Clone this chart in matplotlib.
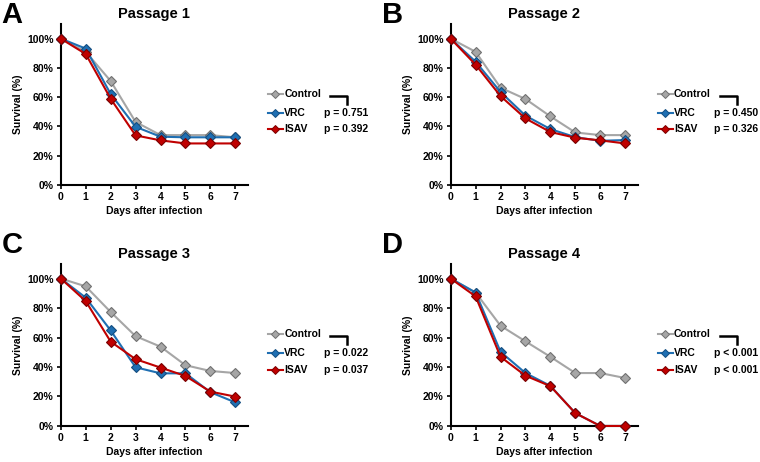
import numpy as np
import matplotlib.pyplot as plt

plt.rcParams['font.family'] = ['Liberation Sans', 'DejaVu Sans']
plt.rcParams['font.weight'] = 'bold'

days = [0, 1, 2, 3, 4, 5, 6, 7]
groups = ['Control', 'VRC', 'ISAV']
panels = ['A', 'B', 'C', 'D']
titles = ['Passage 1', 'Passage 2', 'Passage 3', 'Passage 4']

# survival (%) per passage, per group
control = [
    [100, 91, 71, 43, 34, 34, 34, 32.5],
    [100, 91, 66.4, 58.7, 46.8, 35.8, 34, 34],
    [100, 94.7, 77.3, 60.9, 53.8, 41.2, 37.3, 35.9],
    [100, 90.5, 68, 57.4, 46.9, 35.9, 35.9, 32.5],
]
vrc = [
    [100, 93.2, 62.1, 39.7, 32.9, 32.5, 32.5, 32.5],
    [100, 84.2, 63.5, 47.3, 38.1, 32.6, 30.1, 30.6],
    [100, 87, 64.8, 39.8, 35.7, 35.7, 22.9, 16],
    [100, 90.5, 50.3, 35.9, 27.2, 8.7, 0, 0],
]
isav = [
    [100, 89.5, 58.9, 33.8, 30.4, 28.3, 28.3, 28.3],
    [100, 82.2, 60.7, 45.4, 36.1, 32.2, 30.4, 28.3],
    [100, 84.7, 57.2, 45.3, 39.6, 33.9, 23.3, 19.9],
    [100, 87.9, 46.9, 34.1, 27, 8.7, 0, 0],
]
pvals_vrc = ['p = 0.751', 'p = 0.450', 'p = 0.022', 'p < 0.001']
pvals_isav = ['p = 0.392', 'p = 0.326', 'p = 0.037', 'p < 0.001']

line_colors = ['#a6a6a6', '#1f6fb2', '#c00000']
edge_colors = ['#707070', '#154e80', '#7a0000']

fig = plt.figure(figsize=(7.6, 4.62), dpi=100)
axes_pos = [
    [0.080, 0.600, 0.246, 0.348],
    [0.593, 0.600, 0.246, 0.348],
    [0.080, 0.078, 0.246, 0.351],
    [0.593, 0.078, 0.246, 0.351],
]
letter_pos = [(0.002, 0.998), (0.502, 0.998), (0.002, 0.500), (0.502, 0.500)]

for i in range(4):
    ax = fig.add_axes(axes_pos[i])
    series = [control[i], vrc[i], isav[i]]
    for j in range(3):
        ax.plot(days, series[j], color=line_colors[j], lw=1.5, marker='D',
                ms=5.5, mfc=line_colors[j], mec=edge_colors[j], mew=0.8,
                clip_on=False, zorder=3 + j)
    ax.set_xlim(0, 7.5)
    ax.set_ylim(0, 110)
    ax.set_xticks(days)
    ax.set_yticks(np.arange(0, 101, 20))
    ax.set_yticklabels(['%d%%' % v for v in np.arange(0, 101, 20)])
    for s in ['top', 'right']:
        ax.spines[s].set_visible(False)
    for s in ['left', 'bottom']:
        ax.spines[s].set_linewidth(1.5)
    ax.tick_params(direction='out', length=3, width=1.2, labelsize=7.5, pad=2)
    for lab in ax.get_xticklabels() + ax.get_yticklabels():
        lab.set_fontweight('bold')
    ax.set_xlabel('Days after infection', fontsize=7.5, fontweight='bold', labelpad=3)
    ax.set_ylabel('Survival (%)', fontsize=7.5, fontweight='bold', labelpad=3)
    ax.set_title(titles[i], fontsize=10.5, fontweight='bold', pad=4)
    fig.text(letter_pos[i][0], letter_pos[i][1], panels[i], fontsize=21,
             fontweight='bold', ha='left', va='top')

    # legend drawn by hand with p values and bracket
    rows_y = [0.565, 0.447, 0.348]
    for j in range(3):
        y = rows_y[j]
        ax.plot([1.107, 1.19], [y, y], transform=ax.transAxes, color=line_colors[j],
                lw=1.5, clip_on=False)
        ax.plot([1.148], [y], transform=ax.transAxes, marker='D', ms=4,
                color=line_colors[j], mec=edge_colors[j], mew=0.7, clip_on=False)
        ax.text(1.195, y, groups[j], transform=ax.transAxes, fontsize=7.5,
                fontweight='bold', va='center', ha='left')
    ax.text(1.406, rows_y[1], pvals_vrc[i], transform=ax.transAxes, fontsize=7.5,
            fontweight='bold', va='center', ha='left')
    ax.text(1.406, rows_y[2], pvals_isav[i], transform=ax.transAxes, fontsize=7.5,
            fontweight='bold', va='center', ha='left')
    ax.plot([1.44, 1.53, 1.53], [rows_y[0] - 0.01, rows_y[0] - 0.01, rows_y[0] - 0.06],
            transform=ax.transAxes, color='black', lw=1.8, clip_on=False)

fig.savefig('out.png', dpi=100)
